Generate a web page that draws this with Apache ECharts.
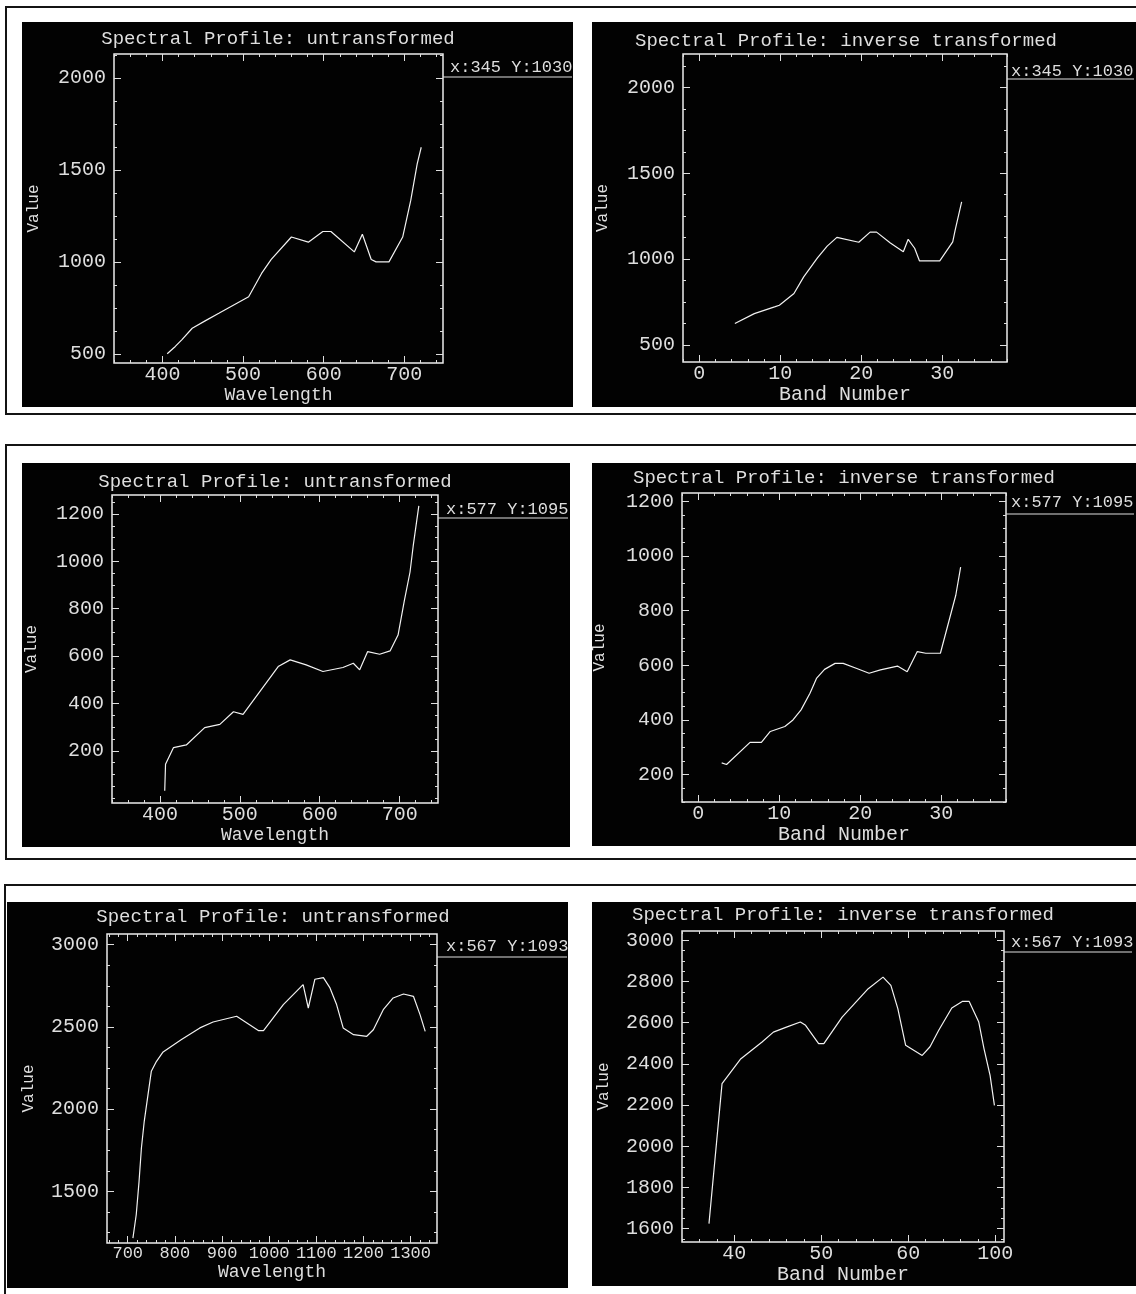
<!DOCTYPE html>
<html>
<head>
<meta charset="utf-8">
<title>Spectral Profiles</title>
<script src="https://cdn.jsdelivr.net/npm/echarts@6/dist/echarts.min.js"></script>
<style>
  html, body { margin: 0; padding: 0; background: #ffffff; }
  #chart { width: 1136px; height: 1294px; }
</style>
</head>
<body>
<div id="chart"></div>
<script>
// ---------------- data ----------------
// Row 1: pixel x:345 Y:1030
const p1Wavelength = [406, 416, 424, 437, 453, 470, 507, 523, 535, 560, 581, 599, 609, 638, 648, 659, 665, 681, 698, 708, 716, 721];
const p1Value      = [500, 540, 576, 639, 679, 720, 810, 937, 1013, 1135, 1107, 1165, 1165, 1054, 1150, 1013, 1000, 1000, 1135, 1334, 1533, 1623];

const p2Band  = [4.4, 6.8, 9.3, 9.9, 11.7, 12.9, 14.6, 15.8, 17.0, 19.7, 21.1, 21.9, 23.6, 25.2, 25.8, 26.6, 27.2, 29.7, 31.3, 31.6, 32.4];
const p2Value = [624, 682, 721, 731, 799, 896, 1007, 1075, 1126, 1098, 1157, 1157, 1094, 1042, 1115, 1063, 989, 989, 1100, 1168, 1333];

// Row 2: pixel x:577 Y:1095
const p3Wavelength = [406, 407, 417, 433, 456, 475, 492, 504, 548, 563, 583, 604, 629, 642, 650, 660, 675, 688, 698, 706, 713, 717, 724];
const p3Value      = [32, 144, 214, 225, 298, 312, 365, 354, 556, 584, 563, 535, 552, 570, 542, 619, 608, 622, 689, 836, 955, 1066, 1234];

const p4Band  = [2.9, 3.5, 6.4, 7.8, 8.9, 10.7, 11.7, 12.7, 13.8, 14.6, 15.6, 16.9, 17.9, 19.5, 21.1, 22.5, 24.6, 25.8, 27.05, 28.1, 29.9, 31.8, 32.4];
const p4Value = [243, 237, 318, 318, 358, 376, 400, 437, 498, 552, 585, 607, 607, 589, 571, 583, 597, 576, 650, 644, 644, 856, 959];

// Row 3: pixel x:567 Y:1093
const p5Wavelength = [711, 718, 724, 729, 735, 743, 750, 761, 775, 814, 853, 881, 931, 977, 988, 1030, 1072, 1083, 1097, 1115, 1129, 1143, 1157, 1179, 1207, 1221, 1242, 1263, 1285, 1306, 1320, 1331];
const p5Value      = [1216, 1358, 1561, 1764, 1926, 2088, 2230, 2291, 2348, 2423, 2494, 2530, 2565, 2478, 2478, 2636, 2757, 2615, 2790, 2800, 2737, 2636, 2494, 2453, 2443, 2483, 2605, 2676, 2700, 2686, 2575, 2473];

const p6Band  = [37.1, 38.6, 40.7, 43.2, 44.5, 46.0, 47.6, 48.2, 49.7, 50.3, 52.4, 55.4, 57.1, 58.0, 58.8, 59.7, 61.6, 62.5, 63.5, 65.0, 66.2, 67.0, 68.1, 68.7, 69.4, 69.9];
const p6Value = [1624, 2304, 2422, 2506, 2554, 2578, 2603, 2587, 2498, 2498, 2627, 2765, 2821, 2781, 2668, 2490, 2441, 2483, 2563, 2671, 2703, 2703, 2603, 2474, 2344, 2198];

// tick values and their labels
const visWavelengthTicks = [400, 500, 600, 700];
const swirWavelengthTicks = [700, 800, 900, 1000, 1100, 1200, 1300];
const bandTicksLow = [0, 10, 20, 30];
const bandTicksHigh = [40, 50, 60, 70];
const bandLabelsHigh = ['40', '50', '60', '100'];
const valueTicks500 = [500, 1000, 1500, 2000];
const valueTicks200 = [200, 400, 600, 800, 1000, 1200];
const valueTicksSwir = [1500, 2000, 2500, 3000];
const valueTicksSwirBand = [1600, 1800, 2000, 2200, 2400, 2600, 2800, 3000];

const titleUntransformed = 'Spectral Profile: untransformed';
const titleInverse = 'Spectral Profile: inverse transformed';
const cursorRow1 = 'x:345 Y:1030';
const cursorRow2 = 'x:577 Y:1095';
const cursorRow3 = 'x:567 Y:1093';

// ---------------- layout / styling ----------------
const FONT = '"Liberation Mono", "DejaVu Sans Mono", monospace';
const INK = '#dedede';

const panels = [
  { title: titleUntransformed, tx: 278, ty: 29, grid: { left: 114, top: 54, width: 329, height: 309 },
    xs: p1Wavelength, ys: p1Value, xRange: [340, 748], yRange: [450, 2130],
    xTicks: visWavelengthTicks, yTicks: valueTicks500, xMinor: 20, yMinor: 125,
    xName: 'Wavelength', xNameSize: 18, xLabelSize: 20, yNameGap: 72,
    bg: [22, 22, 551, 385], cursor: cursorRow1, cx: 450, cy: 67, line: [443, 572, 77] },
  { title: titleInverse, tx: 846, ty: 31, grid: { left: 683, top: 54, width: 324, height: 308 },
    xs: p2Band, ys: p2Value, xRange: [-2, 38], yRange: [400, 2195],
    xTicks: bandTicksLow, yTicks: valueTicks500, xMinor: 2, yMinor: 125,
    xName: 'Band Number', xNameSize: 20, xLabelSize: 20, yNameGap: 72,
    bg: [592, 22, 544, 385], cursor: cursorRow1, cx: 1011, cy: 71, line: [1007, 1134, 79] },
  { title: titleUntransformed, tx: 275, ty: 472, grid: { left: 112, top: 495, width: 326, height: 308 },
    xs: p3Wavelength, ys: p3Value, xRange: [340, 748], yRange: [-20, 1280],
    xTicks: visWavelengthTicks, yTicks: valueTicks200, xMinor: 20, yMinor: 50,
    xName: 'Wavelength', xNameSize: 18, xLabelSize: 20, yNameGap: 72,
    bg: [22, 463, 548, 384], cursor: cursorRow2, cx: 446, cy: 509, line: [438, 568, 518] },
  { title: titleInverse, tx: 844, ty: 468, grid: { left: 682, top: 493, width: 324, height: 309 },
    xs: p4Band, ys: p4Value, xRange: [-2, 38], yRange: [100, 1230],
    xTicks: bandTicksLow, yTicks: valueTicks200, xMinor: 2, yMinor: 50,
    xName: 'Band Number', xNameSize: 20, xLabelSize: 20, yNameGap: 74,
    bg: [592, 463, 544, 383], cursor: cursorRow2, cx: 1011, cy: 502, line: [1006, 1134, 514] },
  { title: titleUntransformed, tx: 273, ty: 907, grid: { left: 107, top: 934, width: 330, height: 309 },
    xs: p5Wavelength, ys: p5Value, xRange: [656, 1356], yRange: [1186, 3065],
    xTicks: swirWavelengthTicks, yTicks: valueTicksSwir, xMinor: 20, yMinor: 125,
    xName: 'Wavelength', xNameSize: 18, xLabelSize: 17, yNameGap: 70,
    bg: [7, 902, 561, 386], cursor: cursorRow3, cx: 446, cy: 946, line: [437, 567, 957] },
  { title: titleInverse, tx: 843, ty: 905, grid: { left: 682, top: 931, width: 322, height: 311 },
    xs: p6Band, ys: p6Value, xRange: [34, 71], yRange: [1535, 3045],
    xTicks: bandTicksHigh, xLabels: bandLabelsHigh, yTicks: valueTicksSwirBand, xMinor: 2, yMinor: 50,
    xName: 'Band Number', xNameSize: 20, xLabelSize: 20, yNameGap: 70,
    bg: [592, 902, 544, 384], cursor: cursorRow3, cx: 1011, cy: 942, line: [1004, 1132, 952] }
];

function minorValues(range, step) {
  const out = [];
  const start = Math.ceil(range[0] / step) * step;
  for (let v = start; v <= range[1] + 1e-9; v += step) out.push(+v.toFixed(6));
  return out;
}

function baseAxis(range, gi, position) {
  return {
    type: 'value', gridIndex: gi, position: position,
    min: range[0], max: range[1],
    splitLine: { show: false },
    axisLine: { show: false, onZero: false },
    axisPointer: { show: false }
  };
}

function tickOnlyAxis(range, gi, position, values, len) {
  return Object.assign(baseAxis(range, gi, position), {
    axisLabel: { show: false },
    axisTick: { show: true, inside: true, length: len, customValues: values, lineStyle: { color: INK, width: 1 } }
  });
}

const option = {
  backgroundColor: '#ffffff',
  animation: false,
  title: [], grid: [], xAxis: [], yAxis: [], series: [],
  graphic: { elements: [] }
};

// frames around each row of panels
[[6, 7, 1140, 407], [6, 445, 1140, 414], [5, 885, 1140, 420]].forEach(function (b) {
  option.graphic.elements.push({
    type: 'rect', z: -20, silent: true,
    shape: { x: b[0], y: b[1], width: b[2], height: b[3] },
    style: { fill: 'none', stroke: '#141414', lineWidth: 2 }
  });
});

panels.forEach(function (p, gi) {
  // black display background of each profile window
  option.graphic.elements.push({
    type: 'rect', z: -10, silent: true,
    shape: { x: p.bg[0], y: p.bg[1], width: p.bg[2], height: p.bg[3] },
    style: { fill: '#020202' }
  });
  // cursor readout with its underline
  option.graphic.elements.push({
    type: 'text', z: 5, silent: true, x: p.cx, y: p.cy,
    style: { text: p.cursor, fill: INK, font: '17px ' + FONT, align: 'left', verticalAlign: 'middle' }
  });
  option.graphic.elements.push({
    type: 'line', z: 5, silent: true,
    shape: { x1: p.line[0], y1: p.line[2], x2: p.line[1], y2: p.line[2] },
    style: { stroke: INK, lineWidth: 1.2 }
  });

  option.title.push({
    text: p.title, left: p.tx, top: p.ty, textAlign: 'center', padding: 0,
    textStyle: { color: INK, fontFamily: FONT, fontSize: 19, fontWeight: 'normal' }
  });

  option.grid.push(Object.assign({
    show: true, borderColor: '#ececec', borderWidth: 1.5, backgroundColor: 'transparent',
    containLabel: false
  }, p.grid));

  const xBase = option.xAxis.length;
  const yBase = option.yAxis.length;

  // bottom axis with labels and name
  option.xAxis.push(Object.assign(baseAxis(p.xRange, gi, 'bottom'), {
    axisTick: { show: true, inside: true, length: 7, customValues: p.xTicks, lineStyle: { color: INK, width: 1 } },
    axisLabel: {
      show: true, customValues: p.xTicks, margin: 2,
      color: INK, fontFamily: FONT, fontSize: p.xLabelSize,
      formatter: function (v) {
        const i = p.xTicks.indexOf(v);
        return p.xLabels && i >= 0 ? p.xLabels[i] : String(v);
      }
    },
    name: p.xName, nameLocation: 'middle', nameGap: 18,
    nameTextStyle: { color: INK, fontFamily: FONT, fontSize: p.xNameSize, verticalAlign: 'top' }
  }));
  option.xAxis.push(tickOnlyAxis(p.xRange, gi, 'top', p.xTicks, 7));
  option.xAxis.push(tickOnlyAxis(p.xRange, gi, 'bottom', minorValues(p.xRange, p.xMinor), 3));
  option.xAxis.push(tickOnlyAxis(p.xRange, gi, 'top', minorValues(p.xRange, p.xMinor), 3));

  // left axis with labels and name
  option.yAxis.push(Object.assign(baseAxis(p.yRange, gi, 'left'), {
    axisTick: { show: true, inside: true, length: 7, customValues: p.yTicks, lineStyle: { color: INK, width: 1 } },
    axisLabel: {
      show: true, customValues: p.yTicks, margin: 8, color: INK, fontFamily: FONT, fontSize: 20,
      formatter: function (v) { return String(v); }
    },
    name: 'Value', nameLocation: 'middle', nameRotate: 90, nameGap: p.yNameGap,
    nameTextStyle: { color: INK, fontFamily: FONT, fontSize: 16 }
  }));
  option.yAxis.push(tickOnlyAxis(p.yRange, gi, 'right', p.yTicks, 7));
  option.yAxis.push(tickOnlyAxis(p.yRange, gi, 'left', minorValues(p.yRange, p.yMinor), 3));
  option.yAxis.push(tickOnlyAxis(p.yRange, gi, 'right', minorValues(p.yRange, p.yMinor), 3));

  option.series.push({
    type: 'line', xAxisIndex: xBase, yAxisIndex: yBase,
    data: p.xs.map(function (x, i) { return [x, p.ys[i]]; }),
    showSymbol: false, symbol: 'none', clip: true, smooth: false,
    lineStyle: { color: '#f2f2f2', width: 1.2 }
  });
});

const chart = echarts.init(document.getElementById('chart'), null, { renderer: 'canvas' });
chart.setOption(option);
</script>
</body>
</html>
